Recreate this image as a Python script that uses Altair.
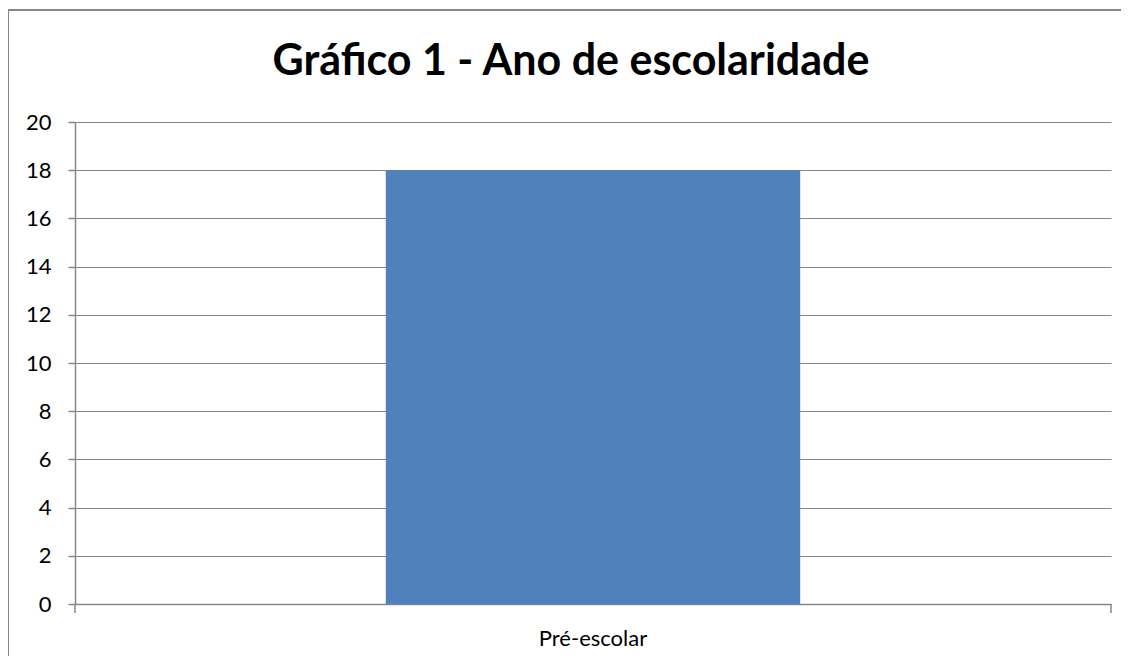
import altair as alt
import pandas as pd

categories = ["Pré-escolar"]
values = [18]
y_ticks = [0, 2, 4, 6, 8, 10, 12, 14, 16, 18, 20]
title_text = "Gráfico 1 - Ano de escolaridade"

df = pd.DataFrame({"cat": categories, "val": values})

W, H = 1036, 482
GRAY = "#868686"
FONT = "Lato"

base = alt.Chart(df)

border = base.mark_rect(fill="transparent", stroke=GRAY, strokeWidth=2).encode(
    x=alt.value(-67), x2=alt.value(W + 200), y=alt.value(-112), y2=alt.value(H + 200)
)

bars = base.mark_bar(color="#4F81BD").encode(
    x=alt.X("cat:N", sort=categories,
            scale=alt.Scale(paddingInner=0.6, paddingOuter=0.3),
            axis=alt.Axis(title=None, ticks=False, labelAngle=0, labelFont=FONT,
                          labelFontSize=22, labelColor="black", labelPadding=24,
                          domainColor=GRAY, domainWidth=1.5)),
    y=alt.Y("val:Q", scale=alt.Scale(domain=[0, 20], nice=False),
            axis=alt.Axis(title=None, values=y_ticks, tickSize=7, tickColor=GRAY,
                          tickWidth=1.5, domainColor=GRAY, domainWidth=1.5,
                          gridColor=GRAY, gridWidth=1, labelFont=FONT,
                          labelFontSize=22, labelColor="black", labelPadding=17)),
)

tick_l = base.mark_rule(color=GRAY, strokeWidth=1.5).encode(
    x=alt.value(0), y=alt.value(H), y2=alt.value(H + 9)
)
tick_r = base.mark_rule(color=GRAY, strokeWidth=1.5).encode(
    x=alt.value(W), y=alt.value(H), y2=alt.value(H + 9)
)

title = alt.Chart(pd.DataFrame({"t": [title_text]})).mark_text(
    font=FONT, fontSize=43, fontWeight="bold", color="black",
    align="center", baseline="alphabetic"
).encode(text="t:N", x=alt.value(496), y=alt.value(-47))

chart = alt.layer(border, bars, tick_l, tick_r, title).properties(
    width=W, height=H,
    autosize=alt.AutoSizeParams(type="none"),
    padding={"left": 67, "top": 114, "right": 10, "bottom": 52},
).configure_view(stroke=None)

chart.save("out.html", embed_options={"renderer": "svg", "actions": False})
